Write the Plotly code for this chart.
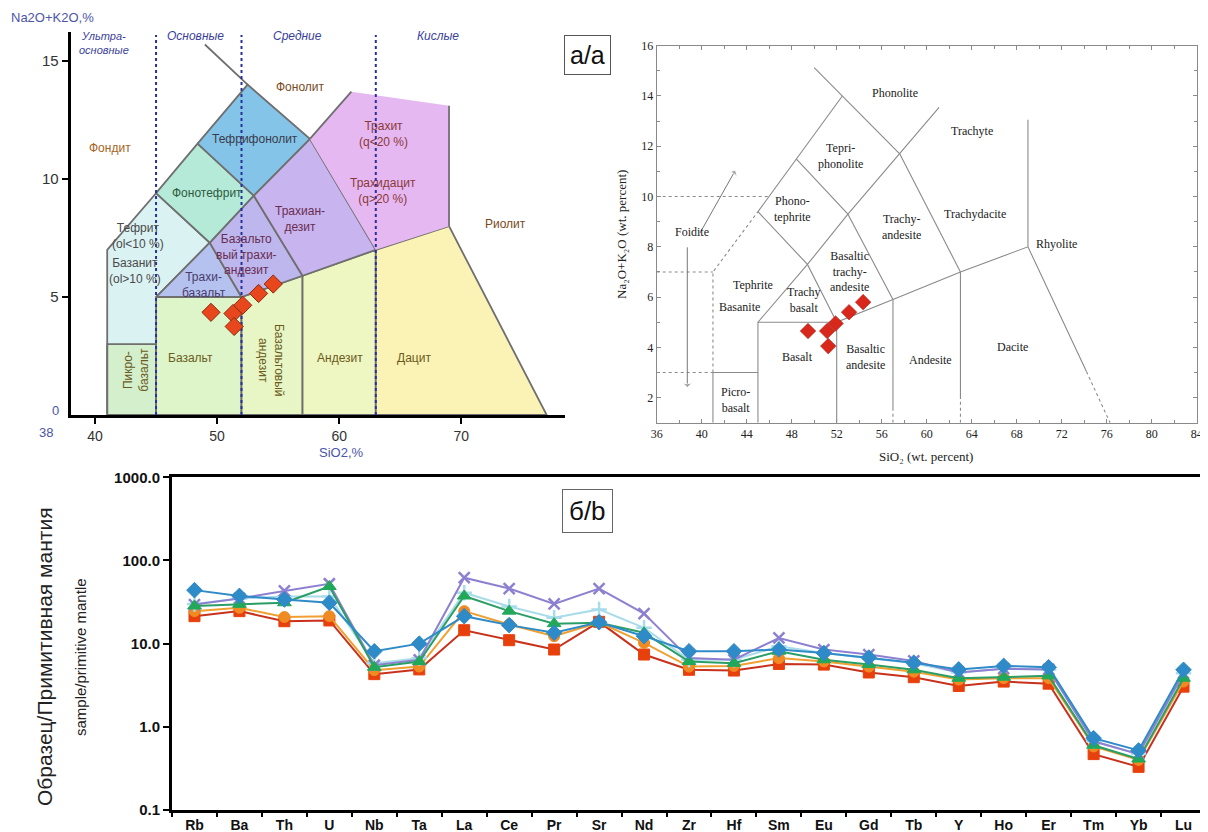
import plotly.graph_objects as go

W, H = 1208, 832
OFF = 8            # page body margin of the browser
FW, FH = W - OFF, H - OFF

# ---------------- samples on TAS diagrams ----------------
RU_SIO2 = [49.5, 51.3, 51.4, 52.1, 53.4, 54.6]
RU_ALK = [4.35, 4.3, 3.75, 4.65, 5.15, 5.55]
EN_SIO2 = [49.45, 51.15, 51.25, 51.9, 53.1, 54.35]
EN_ALK = [4.65, 4.65, 4.05, 4.95, 5.4, 5.8]

# ---------------- TAS field boundaries (SiO2, Na2O+K2O) ----------------
PICROBASALT = [(41, 0), (41, 3), (45, 3), (45, 0)]
BASALT = [(45, 0), (45, 5), (52, 5), (52, 0)]
BAS_ANDESITE = [(52, 0), (52, 5), (57, 5.9), (57, 0)]
ANDESITE = [(57, 0), (57, 5.9), (63, 7), (63, 0)]
DACITE = [(63, 0), (63, 7), (69, 8), (77, 0)]
TEPHRITE = [(41, 3), (41, 7), (45, 9.4), (49.4, 7.3), (45, 5), (45, 3)]
TRACHYBASALT = [(45, 5), (49.4, 7.3), (52, 5)]
BTA = [(52, 5), (49.4, 7.3), (53, 9.3), (57, 5.9)]
TRACHYANDESITE = [(57, 5.9), (53, 9.3), (57.6, 11.7), (63, 7)]
PHONOTEPHRITE = [(45, 9.4), (48.4, 11.5), (53, 9.3), (49.4, 7.3)]
TEPHRIPHONOLITE = [(48.4, 11.5), (52.5, 14), (57.6, 11.7), (53, 9.3)]
TRACHYTE = [(63, 7), (57.6, 11.7), (61, 13.7), (69, 13.1), (69, 8)]
RU_EXTRA_LINES = [
    [(49, 15.7), (52.5, 14)],
    [(57.6, 11.7), (61, 13.7)],
    [(69, 13.1), (69, 8)],
    [(41, 0), (41, 3)],
]
RU_DIVIDERS = [45, 52, 63]

EN_SOLID = [
    [(41, 1), (41, 3), (45, 3)],
    [(45, 1), (45, 5), (52, 5)],
    [(52, 1), (52, 5), (57, 5.9), (63, 7), (69, 8), (74.2, 3.04)],
    [(57, 1.6), (57, 5.9)],
    [(63, 1.95), (63, 7)],
    [(45, 5), (49.4, 7.3), (53, 9.3), (57.6, 11.7), (61.1, 13.55)],
    [(45, 9.4), (49.4, 7.3), (52, 5)],
    [(53, 9.3), (57, 5.9)],
    [(57.6, 11.7), (63, 7)],
    [(45, 9.4), (48.4, 11.5), (52.5, 14)],
    [(48.4, 11.5), (53, 9.3)],
    [(50, 15.13), (52.5, 14), (57.6, 11.7)],
    [(69, 8), (69, 13.05)],
]
EN_DOTTED = [
    [(36, 3), (41, 3)],
    [(36, 7), (41, 7)],
    [(41, 3), (41, 7), (45, 9.4)],
    [(36, 10), (46.1, 10)],
    [(57, 1), (57, 1.6)],
    [(63, 1), (63, 1.95)],
    [(74.2, 3.04), (76.3, 1)],
]
EN_ARROWS = [
    [(39.85, 8.55), (43.0, 11.05)],
    [(38.72, 7.98), (38.72, 2.4)],
]

# ---------------- spider diagram ----------------
ELEMENTS = ["Rb", "Ba", "Th", "U", "Nb", "Ta", "La", "Ce", "Pr", "Sr", "Nd", "Zr",
            "Hf", "Sm", "Eu", "Gd", "Tb", "Y", "Ho", "Er", "Tm", "Yb", "Lu"]
S_RED = [21.4, 24.6, 18.6, 19, 4.3, 4.9, 14.5, 11.0, 8.5, 18.3, 7.4, 4.85,
         4.75, 5.7, 5.6, 4.5, 3.95, 3.1, 3.5, 3.3, 0.47, 0.33, 3.04]
S_ORANGE = [24.6, 27, 20.9, 21.4, 4.8, 5.3, 24.6, 17, 12.3, 18, 10.2, 5.3,
            5.4, 6.7, 6.1, 5.3, 4.6, 3.7, 3.85, 3.85, 0.58, 0.40, 3.5]
S_LCYAN = [30, 35, 37, 37, 5.8, 6.7, 41, 28, 20.5, 25.8, 15.5, 6.4,
           6.4, 9.3, 7.7, 6.7, 5.8, 4.5, 5.0, 4.9, 0.67, 0.47, 4.4]
S_PURPLE = [29.5, 35, 43, 52.5, 5.5, 6.4, 62, 46, 30, 46, 23, 6.7,
            6.4, 11.7, 8.5, 7.4, 6.2, 4.5, 5.0, 4.9, 0.67, 0.47, 4.4]
S_GREEN = [28.4, 29.7, 31, 48.7, 5.2, 6.1, 37.4, 24.6, 17.4, 17.8, 13.5, 6.1,
           5.8, 8.1, 6.4, 5.6, 4.85, 3.84, 3.95, 4.1, 0.6, 0.41, 3.84]
S_BLUE = [44, 37.5, 34, 31, 8.1, 10.0, 21.4, 16.7, 13.5, 18.1, 12.3, 8.1,
          8.1, 8.5, 7.7, 6.8, 5.9, 4.9, 5.4, 5.2, 0.73, 0.52, 4.85]
Y_TICKS = [0.1, 1, 10, 100, 1000]
Y_TICKTEXT = ["0.1", "1.0", "10.0", "100.0", "1000.0"]


def P(x):
    return (x - OFF) / FW


def Q(y):
    return 1 - (y - OFF) / FH


fig = go.Figure()

GRAY = "#6f6f6f"


def poly(pts, color, xa="x", ya="y", line=True):
    xs = [p[0] for p in pts] + [pts[0][0]]
    ys = [p[1] for p in pts] + [pts[0][1]]
    fig.add_trace(go.Scatter(
        x=xs, y=ys, xaxis=xa, yaxis=ya, mode="lines", fill="toself",
        fillcolor=color, line=dict(color=GRAY if line else "rgba(0,0,0,0)", width=1.8),
        hoverinfo="skip", showlegend=False))


def pline(pts, color, width, dash="solid", xa="x", ya="y"):
    fig.add_trace(go.Scatter(
        x=[p[0] for p in pts], y=[p[1] for p in pts], xaxis=xa, yaxis=ya,
        mode="lines", line=dict(color=color, width=width, dash=dash),
        hoverinfo="skip", showlegend=False))


# ---------- Russian TAS ----------
poly(PICROBASALT, "#d3efcb")
poly(BASALT, "#def4c9")
poly(BAS_ANDESITE, "#e7f6c4")
poly(ANDESITE, "#eef6c1")
poly(DACITE, "#fbf3b5")
poly(TEPHRITE, "#dbf2f3")
poly(TRACHYBASALT, "#b5c2ef")
poly(BTA, "#bdb7ee")
poly(TRACHYANDESITE, "#c8b4ef")
poly(PHONOTEPHRITE, "#b5ead8")
poly(TEPHRIPHONOLITE, "#84c4e8")
poly(TRACHYTE, "#e6b8f2", line=False)
for seg in RU_EXTRA_LINES:
    pline(seg, GRAY, 1.8)
for xv in RU_DIVIDERS:
    pline([(xv, 0), (xv, 16.1)], "#27309a", 2, "dot")

fig.add_trace(go.Scatter(
    x=RU_SIO2, y=RU_ALK, xaxis="x", yaxis="y", mode="markers",
    marker=dict(symbol="diamond", size=14, color="#e8461c",
                line=dict(color="#8c2a10", width=1)),
    hoverinfo="skip", showlegend=False))

# ---------- English TAS ----------
for seg in EN_SOLID:
    pline(seg, "#8a8a8a", 1.1, xa="x2", ya="y2")
for seg in EN_DOTTED:
    pline(seg, "#8a8a8a", 1.1, "dot", xa="x2", ya="y2")
for seg in EN_ARROWS:
    fig.add_trace(go.Scatter(
        x=[p[0] for p in seg], y=[p[1] for p in seg], xaxis="x2", yaxis="y2",
        mode="lines+markers", line=dict(color="#777", width=1),
        marker=dict(symbol=["circle", "arrow-wide"], size=[0, 9], color="#777",
                    angleref="previous"),
        hoverinfo="skip", showlegend=False))
fig.add_trace(go.Scatter(
    x=EN_SIO2, y=EN_ALK, xaxis="x2", yaxis="y2", mode="markers",
    marker=dict(symbol="diamond", size=12, color="#d8281c",
                line=dict(color="#a01810", width=0.5)),
    hoverinfo="skip", showlegend=False))

# ---------- Spider diagram ----------
SERIES = [
    (S_RED, "#c8321c", "square", "#e8400c", 11, 1),
    (S_ORANGE, "#f0a030", "circle", "#f08a22", 11, 1),
    (S_LCYAN, "#a8dcea", "cross-thin", "#a8dcea", 11, 2.5),
    (S_PURPLE, "#8e80d0", "x-thin", "#8e80d0", 11, 2.5),
    (S_GREEN, "#2a9e66", "triangle-up", "#22a85a", 12, 1),
    (S_BLUE, "#2f8ac8", "diamond", "#2f8ac8", 12, 1),
]
for vals, lc, sym, mc, ms, mlw in SERIES:
    fig.add_trace(go.Scatter(
        x=ELEMENTS, y=vals, xaxis="x3", yaxis="y3", mode="lines+markers",
        line=dict(color=lc, width=2),
        marker=dict(symbol=sym, size=ms, color=mc,
                    line=dict(color=mc, width=mlw)),
        hoverinfo="skip", showlegend=False))

ann = []


def txt(x, y, s, size=12, color="#6b4a28", xref="x", yref="y", angle=0,
        family="Liberation Sans, Arial", xanchor="center", yanchor="middle",
        style="normal", **kw):
    ann.append(dict(x=x, y=y, xref=xref, yref=yref, text=s, showarrow=False,
                    textangle=angle, xanchor=xanchor, yanchor=yanchor,
                    font=dict(size=size, color=color, family=family, style=style),
                    **kw))


# Russian labels
txt(56.8, 13.9, "Фонолит", color="#7a4a1a")
txt(41.2, 11.3, "Фондит", color="#a86420")
txt(53.1, 11.7, "Тефрифонолит", color="#3a3a4a")
txt(49.2, 9.4, "Фонотефрит", color="#2f5a40")
txt(63.6, 11.9, "Трахит<br>(q<20 %)", color="#8a3838")
txt(63.6, 9.5, "Трахидацит<br>(q>20 %)", color="#8a3838")
txt(56.8, 8.3, "Трахиан-<br>дезит", color="#6a2c50")
txt(73.6, 8.1, "Риолит", color="#7a4a1a")
txt(43.5, 7.6, "Тефрит<br>(ol<10 %)", color="#4a4a4a")
txt(52.4, 6.8, "Базальто<br>вый трахи-<br>андезит", color="#6a2c50")
txt(43.3, 6.1, "Базанит<br>(ol>10 %)", color="#4a4a4a")
txt(48.9, 5.5, "Трахи-<br>базальт", color="#4a3a6a")
txt(47.8, 2.4, "Базальт", color="#6a5a20")
txt(60.1, 2.4, "Андезит", color="#6a5a20")
txt(66.1, 2.4, "Дацит", color="#6a5a20")
txt(43.4, 1.9, "Пикро-<br>базальт", color="#6a5a20", angle=-90)
txt(54.4, 2.3, "Базальтовый<br>андезит", color="#6a5a20", angle=90)
GC = "#3b3f9a"
txt(40.7, 15.75, "Ультра-<br>основные", color=GC, size=11, style="italic")
txt(48.2, 16.05, "Основные", color=GC, size=12, style="italic")
txt(56.6, 16.05, "Средние", color=GC, size=12, style="italic")
txt(68.1, 16.05, "Кислые", color=GC, size=12, style="italic")
BL = "#4b55a8"
txt(P(9), Q(18), "Na2O+K2O,%", size=13, color=BL, xref="paper", yref="paper",
    xanchor="left")
txt(P(341), Q(452), "SiO2,%", size=13, color=BL, xref="paper", yref="paper")
txt(P(46), Q(432), "38", size=13, color=BL, xref="paper", yref="paper")
txt(P(55), Q(410), "0", size=13, color=BL, xref="paper", yref="paper")
txt(P(587), Q(55), "а/а", size=25, color="#111", xref="paper", yref="paper",
    bordercolor="#555", borderwidth=1, borderpad=5, bgcolor="white")

# English labels
SER = "Liberation Serif, Times New Roman"
EC = "#222"
for (x, y, s) in [
    (57.2, 14.1, "Phonolite"), (52.3, 11.6, "Tepri-<br>phonolite"),
    (64.0, 12.6, "Trachyte"), (48.1, 9.5, "Phono-<br>tephrite"),
    (39.1, 8.6, "Foidite"), (57.8, 8.8, "Trachy-<br>andesite"),
    (64.3, 9.3, "Trachydacite"), (71.5, 8.1, "Rhyolite"),
    (53.1, 7.0, "Basaltic<br>trachy-<br>andesite"), (44.6, 6.5, "Tephrite"),
    (43.4, 5.6, "Basanite"), (49.1, 5.9, "Trachy<br>basalt"),
    (48.5, 3.6, "Basalt"), (54.6, 3.6, "Basaltic<br>andesite"),
    (60.3, 3.5, "Andesite"), (67.6, 4.0, "Dacite"), (43.0, 1.9, "Picro-<br>basalt"),
]:
    txt(x, y, s, size=12, color=EC, xref="x2", yref="y2", family=SER)
txt(P(926), Q(456), "SiO₂ (wt. percent)", size=13, color=EC,
    xref="paper", yref="paper", family=SER)
txt(P(622), Q(235), "Na₂O+K₂O (wt. percent)", size=13, color=EC,
    xref="paper", yref="paper", family=SER, angle=-90)

# Spider labels
txt(P(44), Q(657), "Образец/Примитивная мантия", size=21, color="#222",
    xref="paper", yref="paper", angle=-90)
txt(P(80), Q(657), "sample/primitive mantle", size=15, color="#222",
    xref="paper", yref="paper", angle=-90)
txt(P(587), Q(511), "б/b", size=26, color="#111", xref="paper", yref="paper",
    bordercolor="#666", borderwidth=1, borderpad=6, bgcolor="white")

fig.update_layout(
    width=FW, height=FH, autosize=False,
    margin=dict(l=0, r=0, t=0, b=0, pad=0, autoexpand=False),
    paper_bgcolor="white", plot_bgcolor="rgba(0,0,0,0)",
    showlegend=False, annotations=ann,
    xaxis=dict(domain=[P(70.6), P(565)], range=[38, 78.5], anchor="y",
               showline=True, linecolor="black", linewidth=3, ticks="outside",
               ticklen=6, tickwidth=2, tickcolor="black", tickvals=[40, 50, 60, 70],
               tickfont=dict(family="Liberation Sans, Arial", size=14, color="#333"),
               showgrid=False, zeroline=False, automargin=False),
    yaxis=dict(domain=[Q(415), Q(32)], range=[0, 16.23], anchor="x",
               showline=True, linecolor="black", linewidth=3, ticks="outside",
               ticklen=6, tickwidth=2, tickcolor="black", tickvals=[5, 10, 15],
               tickfont=dict(family="Liberation Sans, Arial", size=15, color="#333"),
               showgrid=False, zeroline=False, automargin=False),
    xaxis2=dict(domain=[P(656.7), P(1196.7)], range=[36, 84], anchor="y2",
                showline=True, linecolor="#8a8a8a", linewidth=1, mirror="ticks",
                ticks="inside", ticklen=4, tickcolor="#8a8a8a", tick0=36, dtick=4,
                minor=dict(dtick=2, ticks="inside", ticklen=3, tickcolor="#8a8a8a",
                           showgrid=False),
                tickfont=dict(family=SER, size=12, color=EC),
                showgrid=False, zeroline=False, automargin=False),
    yaxis2=dict(domain=[Q(422.8), Q(45.7)], range=[1, 16], anchor="x2",
                showline=True, linecolor="#8a8a8a", linewidth=1, mirror="ticks",
                ticks="inside", ticklen=4, tickcolor="#8a8a8a", tick0=0, dtick=2,
                minor=dict(dtick=1, ticks="inside", ticklen=3, tickcolor="#8a8a8a",
                           showgrid=False),
                tickfont=dict(family=SER, size=12, color=EC),
                showgrid=False, zeroline=False, automargin=False),
    xaxis3=dict(domain=[P(172), P(1206)], type="category", categoryorder="array",
                categoryarray=ELEMENTS, range=[-0.5, 22.5], anchor="y3",
                tickson="boundaries", ticks="outside", ticklen=4, tickwidth=2,
                tickcolor="black", showline=True, linewidth=3, linecolor="black",
                mirror=True,
                tickfont=dict(family="Liberation Sans, Arial", size=14, color="#111",
                              weight="bold"),
                showgrid=False, zeroline=False, automargin=False),
    yaxis3=dict(domain=[Q(810), Q(477.3)], type="log", range=[-1, 3], anchor="x3",
                tickvals=Y_TICKS, ticktext=Y_TICKTEXT, ticks="outside", ticklen=6,
                tickwidth=2, tickcolor="black", showline=True, linewidth=3,
                linecolor="black",
                tickfont=dict(family="Liberation Sans, Arial", size=15, color="#111",
                              weight="bold"),
                showgrid=False, zeroline=False, automargin=False),
)

fig.write_html("out.html")
